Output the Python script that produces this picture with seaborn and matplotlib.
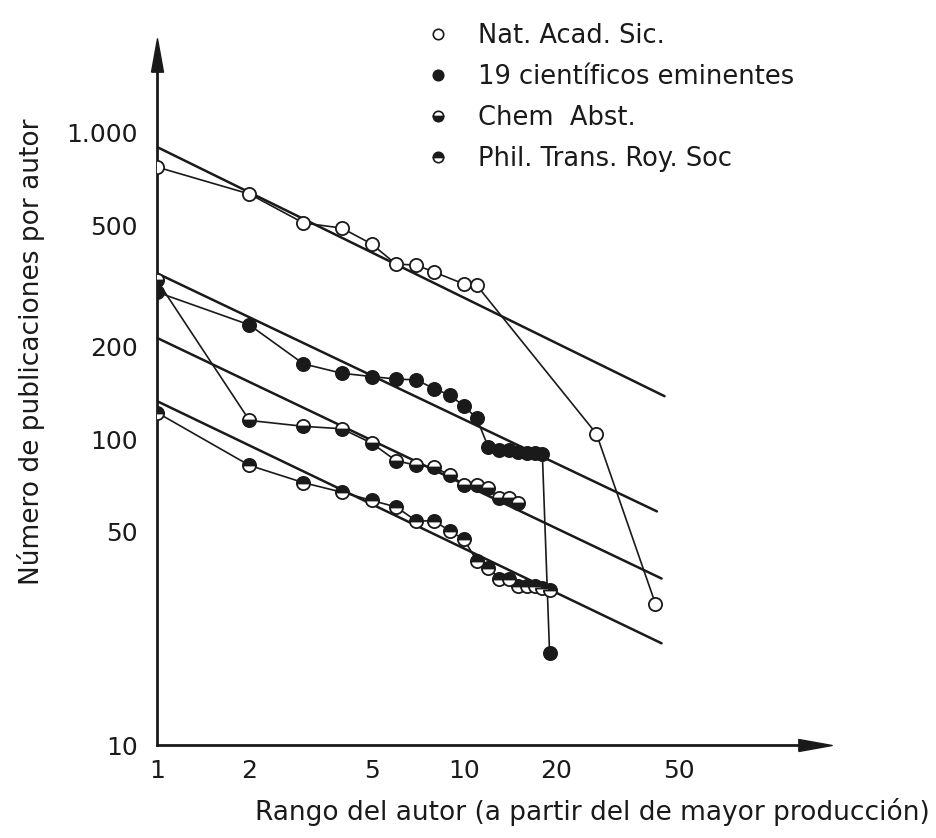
import matplotlib
matplotlib.use("Agg")
import matplotlib.pyplot as plt
from matplotlib.lines import Line2D
import seaborn as sns

# Datos (rango del autor vs. número de publicaciones)
nas_rank = [1, 2, 3, 4, 5, 6, 7, 8, 10, 11, 27, 42]
nas_pubs = [774, 632, 508, 489, 434, 373, 370, 351, 321, 318, 104, 29]

sci_rank = list(range(1, 20))
sci_pubs = [302, 236, 176, 164, 160, 157, 156, 146, 139, 128, 117,
            94, 92, 92, 91, 90, 90, 89, 20]

chem_rank = list(range(1, 16))
chem_pubs = [330, 115, 110, 108, 97, 85, 82, 81, 76, 71, 71, 69, 64, 64, 62]

phil_rank = list(range(1, 20))
phil_pubs = [122, 82, 72, 67, 63, 60, 54, 54, 50, 47, 40, 38, 35, 35,
             33, 33, 33, 32.5, 32]

# Rectas ajustadas (extremos)
nas_fit_x, nas_fit_y = [1, 45], [900, 138]
sci_fit_x, sci_fit_y = [1, 42.5], [348, 58]
chem_fit_x, chem_fit_y = [1, 44], [214, 35]
phil_fit_x, phil_fit_y = [1, 44], [133, 21.5]

x_ticks = [1, 2, 5, 10, 20, 50]
x_tick_labels = ["1", "2", "5", "10", "20", "50"]
y_ticks = [10, 50, 100, 200, 500, 1000]
y_tick_labels = ["10", "50", "100", "200", "500", "1.000"]

labels = ["Nat. Acad. Sic.", "19 científicos eminentes", "Chem  Abst.",
          "Phil. Trans. Roy. Soc"]

sns.set_theme(style="white")
plt.rcParams["font.family"] = ["DejaVu Sans"]
ink = "#1a1a1a"

fig = plt.figure(figsize=(9.37, 8.38), dpi=100)
ax = fig.add_axes([157 / 937, 93 / 838, 658 / 937, 690 / 838])

# rectas de ajuste
for fx, fy in [(nas_fit_x, nas_fit_y), (sci_fit_x, sci_fit_y),
               (chem_fit_x, chem_fit_y), (phil_fit_x, phil_fit_y)]:
    sns.lineplot(x=fx, y=fy, ax=ax, color=ink, linewidth=1.8, zorder=2)

# series con marcadores
mk = dict(marker="o", markersize=9.5, markeredgewidth=1.3,
          markeredgecolor=ink, linewidth=1.2, color=ink, zorder=3)
styles = [
    dict(markerfacecolor="white"),
    dict(markerfacecolor=ink),
    dict(markerfacecolor=ink, fillstyle="bottom", markerfacecoloralt="white"),
    dict(markerfacecolor=ink, fillstyle="top", markerfacecoloralt="white"),
]
series = [(nas_rank, nas_pubs), (sci_rank, sci_pubs),
          (chem_rank, chem_pubs), (phil_rank, phil_pubs)]
for (xr, yp), st in zip(series, styles):
    sns.lineplot(x=xr, y=yp, ax=ax, errorbar=None, **mk, **st)

ax.set_xscale("log")
ax.set_yscale("log")
ax.set_xlim(1, 10 ** (658 / 307))
ax.set_ylim(10, 10 ** (1 + 690 / 306))

ax.set_xticks(x_ticks)
ax.set_xticklabels(x_tick_labels)
ax.set_yticks(y_ticks)
ax.set_yticklabels(y_tick_labels)
ax.minorticks_off()
ax.tick_params(axis="both", direction="in", length=12, width=1.4,
               colors=ink, labelsize=18)
ax.tick_params(axis="x", pad=10)
ax.tick_params(axis="y", pad=14)

for side in ["top", "right"]:
    ax.spines[side].set_visible(False)
for side in ["left", "bottom"]:
    ax.spines[side].set_linewidth(2)
    ax.spines[side].set_color(ink)

# puntas de flecha
head = [(-1, -0.36), (1, 0), (-1, 0.36), (-1, -0.36)]
ax.plot(1, 0, marker=head, markersize=24, color=ink, transform=ax.transAxes,
        clip_on=False, zorder=5)
head_up = [(-0.36, -1), (0, 1), (0.36, -1), (-0.36, -1)]
ax.plot(0, 1, marker=head_up, markersize=24, color=ink, transform=ax.transAxes,
        clip_on=False, zorder=5)

ax.set_ylabel("Número de publicaciones por autor", fontsize=19, color=ink)
ax.yaxis.set_label_coords(-0.17, 0.57)
ax.set_xlabel("Rango del autor (a partir del de mayor producción)",
              fontsize=19, color=ink)
ax.xaxis.set_label_coords(0.661, -0.077)

handles = []
for st in styles:
    handles.append(Line2D([], [], linestyle="none", marker="o", markersize=7.5,
                          markeredgecolor=ink, markeredgewidth=1.2, **st))
fig.legend(handles, labels, loc="upper left", bbox_to_anchor=(407 / 937, 1 - 5 / 838),
           frameon=False, fontsize=18.5, labelspacing=0.58, handlelength=1.0,
           handletextpad=1.06, borderpad=0.2, labelcolor=ink)

fig.savefig("out.png", dpi=100, facecolor="white")
